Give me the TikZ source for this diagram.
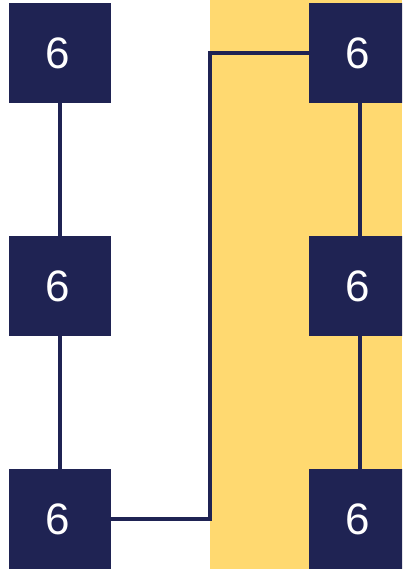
\documentclass[tikz,border=0pt]{standalone}
\usepackage{fontspec}
\setmainfont{Liberation Sans}
\definecolor{navy}{HTML}{1F2353}
\definecolor{band}{HTML}{FFD970}
\begin{document}
\begin{tikzpicture}[x=1pt,y=1pt,
  box/.style={fill=navy,draw=none,minimum width=102pt,minimum height=100pt,inner sep=0pt,text=white,font=\fontsize{44}{44}\selectfont},
  conn/.style={draw=navy,line width=3.5pt}]
\useasboundingbox (0,0) rectangle (402,569);
\clip (0,0) rectangle (402,569);
\fill[band] (210,0) rectangle (402,569);
\node[box] (tl) at (60,516) {\hspace*{-5pt}6};
\node[box] (ml) at (60,283) {\hspace*{-5pt}6};
\node[box] (bl) at (60,50) {\hspace*{-5pt}6};
\node[box] (tr) at (360,516) {\hspace*{-5pt}6};
\node[box] (mr) at (360,283) {\hspace*{-5pt}6};
\node[box] (br) at (360,50) {\hspace*{-5pt}6};
\coordinate (xc) at (210,283);
\draw[conn] (tl.south) -- (ml.north);
\draw[conn] (ml.south) -- (bl.north);
\draw[conn] (tr.south) -- (mr.north);
\draw[conn] (mr.south) -- (br.north);
\draw[conn] (bl.east) -| (xc) |- (tr.west);
\end{tikzpicture}
\end{document}
